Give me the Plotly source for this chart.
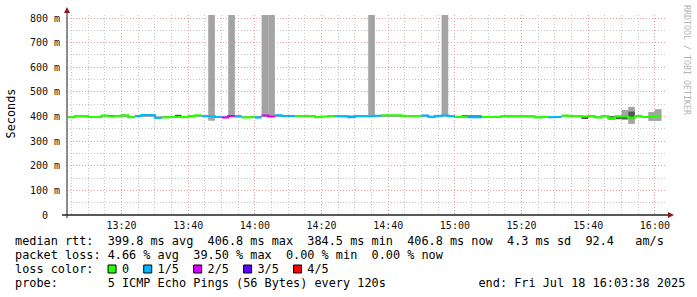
import plotly.graph_objects as go
import pandas as pd

# ---------------- data ----------------
t_first_bin = "2025-07-18 13:04:00"
bin_seconds = 120
x_range = ["2025-07-18 13:03:38", "2025-07-18 16:03:38"]

median_ms = [397, 401, 401, 398, 398, 404, 400, 402, 405, 397,
             402, 406, 406, 395, 396, 398, 398, 397, 400, 405,
             401, 401, 398, 396, 402, 400, 396, 397, 396, 404,
             400, 405, 402, 402, 402, 402, 402, 397, 400, 402,
             401, 400, 397, 401, 401, 401, 403, 405, 405, 405,
             402, 402, 402, 404, 399, 402, 404, 401, 399, 399,
             397, 397, 398, 398, 399, 402, 400, 400, 400, 400,
             396, 399, 397, 398, 404, 401, 401, 400, 401, 396,
             401, 392, 400, 400, 395, 402, 398, 399, 403]

loss_count = [0, 0, 0, 0, 0, 0, 0, 0, 0, 0,
              1, 1, 1, 1, 0, 0, 0, 0, 0, 0,
              1, 1, 1, 2, 2, 1, 0, 0, 1, 2,
              2, 1, 1, 1, 0, 0, 0, 0, 0, 0,
              1, 1, 1, 1, 1, 1, 1, 0, 0, 0,
              0, 0, 0, 1, 1, 1, 1, 1, 0, 0,
              1, 1, 0, 0, 0, 0, 0, 0, 0, 0,
              0, 0, 1, 1, 0, 0, 0, 0, 0, 0,
              0, 0, 0, 0, 0, 0, 0, 0, 0]

smoke_min = [395, 399, 398, 396, 396, 400, 398, 399, 401, 395,
             399, 402, 402, 393, 394, 396, 395, 395, 398, 401,
             398, 383, 396, 394, 398, 398, 394, 395, 394, 399,
             398, 402, 400, 400, 400, 400, 400, 395, 398, 400,
             399, 398, 395, 399, 399, 399, 400, 402, 402, 402,
             400, 400, 400, 401, 397, 400, 400, 399, 397, 397,
             395, 395, 396, 396, 397, 399, 398, 398, 398, 398,
             394, 397, 395, 396, 401, 399, 399, 394, 398, 394,
             398, 389, 388, 386, 370, 399, 394, 382, 382]

smoke_max = [400, 404, 404, 402, 402, 406, 404, 405, 407, 400,
             404, 408, 408, 400, 399, 401, 404, 402, 403, 407,
             404, 1500, 401, 399, 1500, 403, 399, 400, 400, 1500,
             1500, 408, 404, 404, 404, 404, 404, 400, 402, 405,
             404, 403, 403, 404, 404, 1500, 405, 407, 407, 407,
             404, 404, 404, 407, 402, 405, 1500, 404, 402, 402,
             400, 400, 401, 401, 402, 404, 403, 403, 403, 403,
             399, 402, 400, 401, 406, 404, 404, 403, 404, 399,
             404, 402, 405, 427, 439, 405, 401, 418, 430]

dark_bins = [6, 16, 42, 59, 60, 61, 77, 81, 82, 83, 84]
dark_lo = [399, 398, 397, 399, 397, 397, 393, 388, 390, 390, 392]
dark_hi = [403, 407, 403, 404, 405, 405, 401, 401, 402, 403, 420]

y_tickvals = [0, 100, 200, 300, 400, 500, 600, 700, 800]
y_ticktext = ["0  ", "100 m", "200 m", "300 m", "400 m", "500 m", "600 m", "700 m", "800 m"]

loss_labels = ["0", "1/5", "2/5", "3/5", "4/5"]
loss_colors = ["#26ff00", "#00b8ff", "#dd00ff", "#5e00ff", "#ff0000"]

legend_rtt = "median rtt:  399.8 ms avg  406.8 ms max  384.5 ms min  406.8 ms now  4.3 ms sd  92.4   am/s"
legend_loss = "packet loss: 4.66 % avg  39.50 % max  0.00 % min  0.00 % now"
legend_probe = "probe:       5 ICMP Echo Pings (56 Bytes) every 120s"
legend_end = "end: Fri Jul 18 16:03:38 2025"
y_title = "Seconds"
credit = "RRDTOOL / TOBI OETIKER"

# ---------------- geometry helpers ----------------
W, H = 697, 297
L, R, T, B = 67, 667, 15, 215
PW, PH = R - L, B - T


def px_x(p):
    return (p - L) / PW


def px_y(p):
    return (B - p) / PH


MONO = "DejaVu Sans Mono"
FS = 11.85
CW = FS * 0.6021
TX0 = 14.3      # left edge of the first text cell
PAD = 1         # annotation border padding

NB = "\u00a0"


def nb(s):
    return s.replace(" ", NB)


starts = pd.date_range(t_first_bin, periods=len(median_ms), freq=f"{bin_seconds}s")
centers = starts + pd.Timedelta(seconds=bin_seconds / 2)
ends = starts + pd.Timedelta(seconds=bin_seconds)
fmt = "%Y-%m-%d %H:%M:%S"
cx = [t.strftime(fmt) for t in centers]

fig = go.Figure()

# light smoke
fig.add_trace(go.Bar(
    x=cx, base=smoke_min, y=[hi - lo for lo, hi in zip(smoke_min, smoke_max)],
    width=bin_seconds * 1000, marker=dict(color="#a4a4a4", line=dict(width=0)),
    hoverinfo="skip", showlegend=False))
# dark smoke
fig.add_trace(go.Bar(
    x=[cx[k] for k in dark_bins], base=dark_lo, y=[h - l for l, h in zip(dark_lo, dark_hi)],
    width=bin_seconds * 1000, marker=dict(color="#555555", line=dict(width=0)),
    hoverinfo="skip", showlegend=False))

# median line coloured by loss
n = len(median_ms)
for c, col in enumerate(loss_colors):
    xs, ys = [], []
    for k in range(n):
        if loss_count[k] != c:
            continue
        xs.append(starts[k].strftime(fmt))
        ys.append(median_ms[k])
        if k + 1 >= n or loss_count[k + 1] != c:
            xs.append(ends[k].strftime(fmt))
            ys.append(median_ms[k])
            xs.append(None)
            ys.append(None)
    if xs:
        fig.add_trace(go.Scatter(x=xs, y=ys, mode="lines", line=dict(color=col, width=2.2, shape="hv"),
                                 connectgaps=False, hoverinfo="skip", showlegend=False))

MAJ = "#e6a0a0"
MIN = "#c4c4c4"
DASH = "1px,2px"

fig.update_layout(
    width=W, height=H,
    margin=dict(l=L, r=W - R, t=T, b=H - B),
    paper_bgcolor="white", plot_bgcolor="white",
    barmode="overlay", showlegend=False,
    xaxis=dict(type="date", range=x_range, tickformat="%H:%M", dtick=1200000,
               tick0="2025-07-18 13:00:00", showgrid=True, gridcolor=MAJ, griddash=DASH, gridwidth=1,
               minor=dict(dtick=300000, tick0="2025-07-18 13:00:00", showgrid=True, gridcolor=MIN,
                          griddash=DASH, gridwidth=1),
               showline=False, zeroline=False, ticks="", ticklabelstandoff=3,
               tickfont=dict(family=MONO, size=10, color="#111")),
    yaxis=dict(range=[0, 800 * PH / (B - 18)], tickvals=y_tickvals, ticktext=[nb(t) for t in y_ticktext],
               showgrid=True, gridcolor=MAJ, griddash=DASH, gridwidth=1,
               minor=dict(dtick=50, showgrid=True, gridcolor=MIN, griddash=DASH, gridwidth=1),
               showline=False, zeroline=False, ticks="", ticklabelstandoff=6,
               tickfont=dict(family=MONO, size=10, color="#111")),
)

shapes = [
    dict(type="line", xref="paper", yref="paper", x0=0, x1=0, y0=px_y(218), y1=px_y(11),
         line=dict(color="#666666", width=1.5)),
    dict(type="line", xref="paper", yref="paper", x0=px_x(62), x1=px_x(669), y0=0, y1=0,
         line=dict(color="#222222", width=1.5)),
    dict(type="path", xref="paper", yref="paper",
         path=f"M {px_x(67)} {px_y(7)} L {px_x(64)} {px_y(13)} L {px_x(70)} {px_y(13)} Z",
         fillcolor="#8b1a1a", line=dict(width=0)),
    dict(type="path", xref="paper", yref="paper",
         path=f"M {px_x(674)} {px_y(215)} L {px_x(668)} {px_y(212)} L {px_x(668)} {px_y(218)} Z",
         fillcolor="#8b1a1a", line=dict(width=0)),
]

annotations = []
rows_y = [241, 255, 269, 283]

# loss colour row text built from labels
sq_cols = [13, 18, 25, 32, 39]
row3 = list("loss color:".ljust(44))
for col_i, lab in zip(sq_cols, loss_labels):
    for j, ch in enumerate(lab):
        row3[col_i + 2 + j] = ch
row3 = "".join(row3).rstrip()

probe_line = legend_probe.ljust(65) + legend_end

for txt, yy in zip([legend_rtt, legend_loss, row3, probe_line], rows_y):
    annotations.append(dict(text=nb(txt), xref="paper", yref="paper", x=px_x(TX0 - PAD), y=px_y(yy),
                            xanchor="left", yanchor="middle", showarrow=False,
                            font=dict(family=MONO, size=FS, color="#000")))

for col_i, colr in zip(sq_cols, loss_colors):
    x0 = TX0 + col_i * CW + 1
    shapes.append(dict(type="rect", xref="paper", yref="paper",
                       x0=px_x(x0), x1=px_x(x0 + 8), y0=px_y(273), y1=px_y(265),
                       fillcolor=colr, line=dict(color="#000", width=1)))

annotations.append(dict(text=y_title, xref="paper", yref="paper", x=px_x(10.5), y=px_y(114),
                        xanchor="center", yanchor="middle", textangle=-90, showarrow=False,
                        font=dict(family=MONO, size=FS, color="#000")))
annotations.append(dict(text=nb(credit), xref="paper", yref="paper", x=px_x(687), y=px_y(60),
                        xanchor="center", yanchor="middle", textangle=90, showarrow=False,
                        font=dict(family=MONO, size=8.3, color="#b4b4b4")))

fig.update_layout(shapes=shapes, annotations=annotations)
fig.write_html("out.html")
